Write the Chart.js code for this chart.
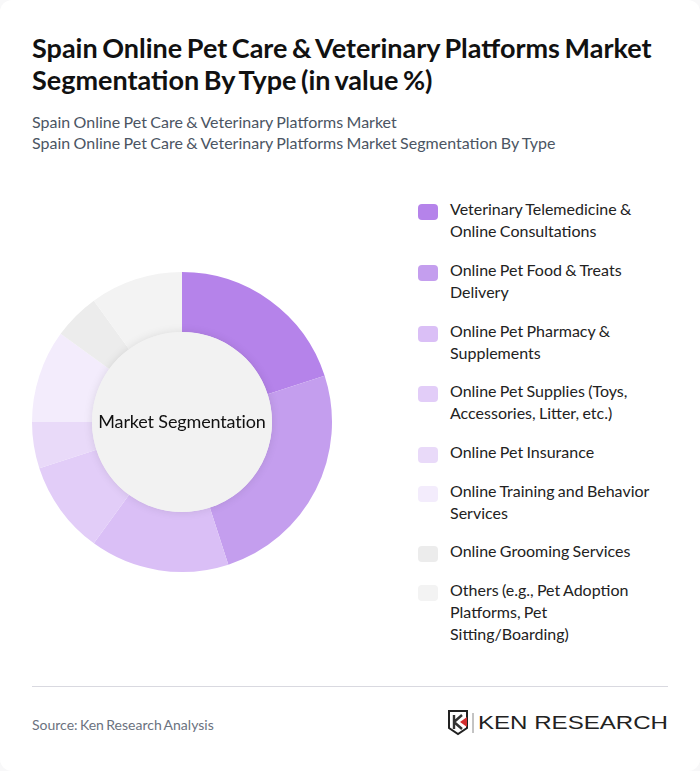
<!DOCTYPE html>
<html>
<head>
<meta charset="utf-8">
<script src="https://cdn.jsdelivr.net/npm/chart.js@4/dist/chart.umd.min.js"></script>
<style>
  * { box-sizing: border-box; margin: 0; padding: 0; }
  html, body { width: 700px; height: 771px; background: #f8f8f9; overflow: hidden; font-family: Lato, sans-serif; }
  .card { position: absolute; left: 0; top: 0; width: 700px; height: 771px; background: #fff; border-radius: 12px; }
  .title { position: absolute; left: 32px; top: 32px; width: 640px; font-size: 27px; word-spacing: -2px; line-height: 32px; font-weight: 700; color: #111; }
  .sub { position: absolute; left: 32px; top: 111px; font-size: 16px; word-spacing: -0.7px; line-height: 21px; color: #4b5563; white-space: nowrap; }
  .chart-box { position: absolute; left: 22px; top: 262px; width: 320px; height: 320px; }
  .center { position: absolute; left: 32px; top: 271px; width: 300px; height: 300px; line-height: 300px; text-align: center; font-size: 18px; letter-spacing: -0.15px; color: #111; }
  .legend { position: absolute; left: 418px; top: 198.05px; width: 250px; }
  .leg-item { position: relative; padding-left: 32px; margin-bottom: 16.74px; font-size: 16px; word-spacing: -0.8px; line-height: 22px; color: #222; }
  .leg-swatch { position: absolute; left: 0; top: 6px; width: 20px; height: 16px; border-radius: 4px; }
  .rule { position: absolute; left: 32px; top: 686px; width: 636px; height: 1px; background: #d9d9e0; }
  .source { position: absolute; left: 32px; top: 716px; font-size: 14px; word-spacing: -1.2px; line-height: 18px; color: #6b7280; }
  .logo { position: absolute; left: 446px; top: 709px; }
</style>
</head>
<body>
<div class="card"></div>
<div class="title">Spain Online Pet Care &amp; Veterinary Platforms Market Segmentation By Type (in value %)</div>
<div class="sub">Spain Online Pet Care &amp; Veterinary Platforms Market<br>Spain Online Pet Care &amp; Veterinary Platforms Market Segmentation By Type</div>

<div class="chart-box"><canvas id="donut" width="320" height="320"></canvas></div>
<div class="center">Market Segmentation</div>
<div class="legend" id="legend"></div>

<div class="rule"></div>
<div class="source">Source: Ken Research Analysis</div>
<svg class="logo" width="224" height="28" viewBox="0 0 224 28">
  <path d="M3 2 H21 V19 L12 25 L3 19 Z" fill="none" stroke="#222" stroke-width="2"/>
  <path d="M8 6 V20 M8 13 L16 6 M8 13 L16 20" fill="none" stroke="#333" stroke-width="2.4"/>
  <path d="M21 8 L14 13 L21 18 Z" fill="#d32f2f"/>
  <line x1="27" y1="4" x2="27" y2="24" stroke="#888" stroke-width="1"/>
  <text x="32" y="20" textLength="190" lengthAdjust="spacingAndGlyphs" font-family="'Liberation Sans', sans-serif" font-size="19" fill="#222">KEN RESEARCH</text>
</svg>

<script>
const labels = [
  ["Veterinary Telemedicine &", "Online Consultations"],
  ["Online Pet Food & Treats", "Delivery"],
  ["Online Pet Pharmacy &", "Supplements"],
  ["Online Pet Supplies (Toys,", "Accessories, Litter, etc.)"],
  ["Online Pet Insurance"],
  ["Online Training and Behavior", "Services"],
  ["Online Grooming Services"],
  ["Others (e.g., Pet Adoption", "Platforms, Pet", "Sitting/Boarding)"]
];
const values = [20, 25, 15, 10, 5, 10, 5, 10];
const colors = ["#b583ea", "#c49eee", "#dabff6", "#e2cdf8", "#e9daf9", "#f3ecfc", "#ececec", "#f3f3f3"];

// ── Legend ──
document.getElementById("legend").innerHTML = labels.map((l, i) => `
  <div class="leg-item">
    <span class="leg-swatch" style="background:${colors[i]}"></span>${l.join("<br>").replace(/&(?!amp)/g, "&amp;")}
  </div>
`).join("");

// ── Center disc, drawn over the ring with a soft shadow ──
const centerDisc = {
  id: "centerDisc",
  afterDatasetsDraw(chart) {
    const arc = chart.getDatasetMeta(0).data[0];
    const ctx = chart.ctx;
    ctx.save();
    ctx.shadowColor = "rgba(0,0,0,0.10)";
    ctx.shadowBlur = 10;
    ctx.fillStyle = "#f2f2f2";
    ctx.beginPath();
    ctx.arc(arc.x, arc.y, arc.innerRadius, 0, Math.PI * 2);
    ctx.fill();
    ctx.restore();
  }
};

new Chart(document.getElementById("donut"), {
  type: "doughnut",
  data: {
    labels: labels.map(l => l.join(" ")),
    datasets: [{ data: values, backgroundColor: colors, borderWidth: 0 }]
  },
  options: {
    responsive: false,
    animation: false,
    cutout: "60%",
    layout: { padding: 10 },
    plugins: { legend: { display: false }, tooltip: { enabled: false } }
  },
  plugins: [centerDisc]
});
</script>
</body>
</html>
